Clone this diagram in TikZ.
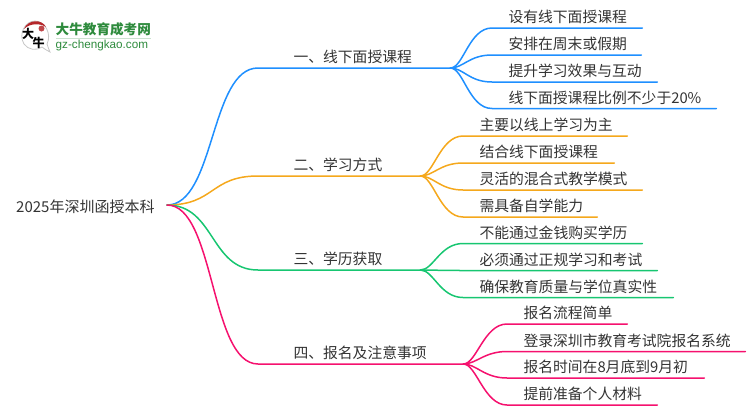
\documentclass[tikz,border=0pt]{standalone}
\usepackage{fontspec}
\setmainfont{Noto Sans CJK SC}
\newfontfamily\latinfont{Liberation Sans}
\definecolor{cblue}{HTML}{1E8FFF}
\definecolor{corange}{HTML}{F5A81C}
\definecolor{cgreen}{HTML}{17C671}
\definecolor{cpink}{HTML}{F5116E}
\definecolor{ctext}{HTML}{333333}
\definecolor{cbrand}{HTML}{2E8B3D}
\definecolor{ccap}{HTML}{B5262A}
\newcommand{\leaf}[7]{% name, colour, from, x0, x1, y, text
  \node[leafnode,anchor=south west,text width=#5pt-#4pt] (#1) at (#4,#6) {\hspace*{16.3pt}#7};
  \draw[conn,#2] (#3) .. controls ([xshift=13pt]#3) and ([xshift=-23pt]#1.south west) .. (#1.south west) -- (#1.south east);
}
\tikzset{
  conn/.style={line width=1.5pt,line cap=round},
  leafnode/.style={inner xsep=0pt,inner ysep=2pt,text=ctext,font=\fontsize{14.8pt}{16pt}\selectfont,text height=12pt,text depth=3pt},
  branchnode/.style={inner xsep=0pt,inner ysep=2pt,text=ctext,font=\fontsize{14.8pt}{16pt}\selectfont,text height=12pt,text depth=3pt,anchor=south west},
  rootnode/.style={inner sep=0pt,text=ctext,font=\fontsize{15pt}{16pt}\selectfont,anchor=west},
}
\begin{document}
\begin{tikzpicture}[x=1pt,y=-1pt]
\useasboundingbox (0,0) rectangle (750,410);
% logo
\draw[fill=white,draw=black!22,line width=0.8pt] (42,47) .. controls (46,50) and (48,51) .. (50,52) .. controls (49,50) and (48,47) .. (47,44) .. controls (52,34) and (45,21) .. (35,21) .. controls (25,21) and (18,34) .. (24,44) .. controls (28,50) and (37,51) .. (42,47) -- cycle;
\fill[ccap] (24,29) .. controls (28,19) and (42,19) .. (46,27) .. controls (40,23) and (30,23) .. (24,29) -- cycle;
\fill[ccap!85] (41.5,28.5) circle (3);
\node[inner sep=0pt,font=\fontsize{12pt}{12pt}\selectfont\bfseries,text=black] (logoa) at (28,33.5) {大};
\node[inner sep=0pt,font=\fontsize{12pt}{12pt}\selectfont\bfseries,text=black] (logob) at (38.5,42.5) {牛};
\node[inner sep=0pt,anchor=west,text=cbrand,font=\fontsize{13.6pt}{14pt}\selectfont\bfseries] (brand) at (55.5,29) {大牛教育成考网};
\draw[cbrand!25,line width=0.7pt] (brand.west |- 0,38) -- (brand.east |- 0,38);
\node[inner sep=0pt,anchor=west,text=cbrand,font=\latinfont\fontsize{11.7pt}{12pt}\selectfont] (site) at (55.5,45) {gz-chengkao.com};
% root
\node[rootnode] (root) at (16,207) {2025年深圳函授本科};
\coordinate (r) at (167,205);
% branches
\node[branchnode,text width=192pt] (b1) at (258,68) {\hspace*{35.3pt}一、线下面授课程};
\node[branchnode,text width=162pt] (b2) at (258,176) {\hspace*{35.3pt}二、学习方式};
\node[branchnode,text width=162pt] (b3) at (258,270) {\hspace*{35.3pt}三、学历获取};
\node[branchnode,text width=205pt] (b4) at (258,364) {\hspace*{35.3pt}四、报名及注意事项};
\draw[conn,cblue] (r) .. controls (215,205) and (210,68) .. (b1.south west) -- (b1.south east);
\draw[conn,corange] (r) .. controls (215,205) and (210,176) .. (b2.south west) -- (b2.south east);
\draw[conn,cgreen] (r) .. controls (215,205) and (210,270) .. (b3.south west) -- (b3.south east);
\draw[conn,cpink] (r) .. controls (215,205) and (210,364) .. (b4.south west) -- (b4.south east);
\coordinate (j1) at (b1.south east);
\coordinate (j2) at (b2.south east);
\coordinate (j3) at (b3.south east);
\coordinate (j4) at (b4.south east);
% leaves
\leaf{a1}{cblue}{j1}{492}{642}{28}{设有线下面授课程}
\leaf{a2}{cblue}{j1}{492}{641}{55}{安排在周末或假期}
\leaf{a3}{cblue}{j1}{492}{657}{82}{提升学习效果与互动}
\leaf{a4}{cblue}{j1}{492}{716}{108.5}{线下面授课程比例不少于20\%}
\leaf{c1}{corange}{j2}{463}{627}{136}{主要以线上学习为主}
\leaf{c2}{corange}{j2}{463}{614}{163}{结合线下面授课程}
\leaf{c3}{corange}{j2}{463}{642}{190}{灵活的混合式教学模式}
\leaf{c4}{corange}{j2}{463}{597}{217}{需具备自学能力}
\leaf{d1}{cgreen}{j3}{463}{642}{243.5}{不能通过金钱购买学历}
\leaf{d2}{cgreen}{j3}{463}{657}{270.5}{必须通过正规学习和考试}
\leaf{d3}{cgreen}{j3}{463}{673}{297.5}{确保教育质量与学位真实性}
\leaf{e1}{cpink}{j4}{507}{627}{324}{报名流程简单}
\leaf{e2}{cpink}{j4}{507}{745}{351.5}{登录深圳市教育考试院报名系统}
\leaf{e3}{cpink}{j4}{507}{704}{378}{报名时间在8月底到9月初}
\leaf{e4}{cpink}{j4}{507}{657}{405}{提前准备个人材料}
\end{tikzpicture}
\end{document}
